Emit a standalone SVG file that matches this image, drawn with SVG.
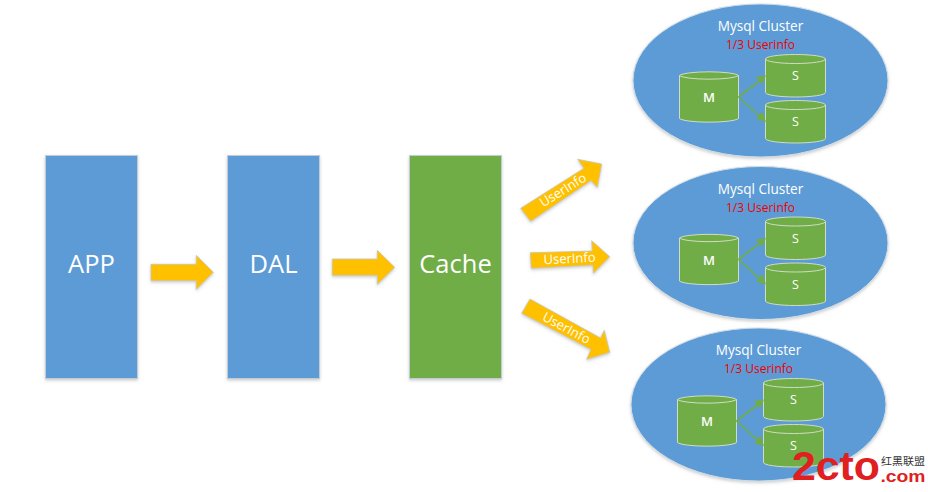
<svg xmlns="http://www.w3.org/2000/svg" width="928" height="492" viewBox="0 0 928 492">
<style>
text{font-family:"Open Sans","Noto Sans","Liberation Sans",sans-serif;text-anchor:middle;fill:#fff}
.box{stroke:#c3ccd4;stroke-width:1;filter:url(#sh)}
.blue{fill:#5b9bd5}.green{fill:#70ad47}
.arrow{fill:#ffc000;stroke:#c9c6b4;stroke-width:.8;filter:url(#sh)}
.cyl{fill:#70ad47;stroke:#d0dcc6;stroke-width:1}
.big{font-size:25.5px}.title{font-size:13.6px}.red{font-size:12px;fill:#f00000}.c{font-size:12.5px}.ai{font-size:13px}
.lnk{stroke:#70ad47;stroke-width:1.6;fill:none}
.head{fill:#70ad47}
</style>
<defs>
<filter id="sh" x="-10%" y="-10%" width="120%" height="120%"><feDropShadow dx="0" dy="1.5" stdDeviation="1.5" flood-color="#999" flood-opacity=".5"/></filter>
<g id="db"><path class="cyl" d="M0 4.500A30 4.500 0 0 1 60 4.500V38A30 4.500 0 0 1 0 38Z"/><path class="cyl" style="fill:none" d="M0 4.500A30 4.500 0 0 0 60 4.500"/></g>
<g id="cl">
<ellipse cx="128" cy="76.500" rx="127.500" ry="76.500" class="blue" style="stroke:#d0dde8;stroke-width:1;filter:url(#sh)"/>
<text x="128" y="27" class="title">Mysql Cluster</text>
<text x="128" y="45" class="red">1/3 Userinfo</text>
<use href="#db" transform="translate(133,50.500)"/>
<use href="#db" transform="translate(133,96.500)"/>
<path class="cyl" d="M47 71.500A30 4.500 0 0 1 106 71.500V114.500A30 4.500 0 0 1 47 114.500Z"/>
<path class="cyl" d="M47 71.500A30 4.500 0 0 0 106 71.500" style="fill:none"/>
<text x="76.500" y="98" class="c" style="font-weight:600;font-size:13px">M</text>
<text x="163" y="76" class="c">S</text>
<text x="163" y="122" class="c">S</text>
<path class="lnk" d="M106 93L128 76"/><path class="lnk" d="M106 93L128 113"/>
<path class="head" d="M133.500 71.500L129.500 80.500L123.500 73Z"/>
<path class="head" d="M133.500 118L123.500 115L130 107.500Z"/>
</g>
</defs>
<rect width="928" height="492" fill="#fff"/>
<g id="app"><rect class="box blue" x="45.500" y="155.500" width="92" height="223"/><text x="91.500" y="273" class="big">APP</text></g>
<g id="dal"><rect class="box blue" x="227.500" y="155.500" width="92" height="223"/><text x="273.500" y="273" class="big">DAL</text></g>
<g id="cache"><rect class="box green" x="409.500" y="155.500" width="92" height="223"/><text x="455.500" y="273" class="big">Cache</text></g>
<g id="connectors">
<path class="arrow" d="M151 264.300H196.300V255.300L213.300 272.300L196.300 289.300V280.700H151Z"/>
<path class="arrow" d="M332.300 259H377.300V250.300L394.700 267.300L377.300 284.300V275.300H332.300Z"/>
<g id="a1"><path class="arrow" d="M520.700 208.300L584 168.300L577.700 159.300L601.700 164L597.300 187.300L591 180.500L530.700 221.300Z"/><text class="ai" transform="translate(563,190) rotate(-32)" y="4.500">UserInfo</text></g>
<g id="a2"><path class="arrow" d="M530.300 252.700L592.300 251L591.700 240.700L609.700 256.700L593.300 273.300L593 265L531.300 268.300Z"/><text class="ai" transform="translate(569.500,258.500) rotate(-3)" y="4.500">UserInfo</text></g>
<g id="a3"><path class="arrow" d="M530 299L600.500 338L604.300 330.300L609.700 352.300L586.700 359.300L591 349.500L521.700 313.300Z"/><text class="ai" transform="translate(566.500,328) rotate(28)" y="4.500">UserInfo</text></g>
</g>
<g id="cluster1"><use href="#cl" transform="translate(632.500,4)"/></g>
<g id="cluster2"><use href="#cl" transform="translate(632.500,166.500)"/></g>
<g id="cluster3"><use href="#cl" transform="translate(630.500,328)"/></g>
<g id="watermark">
<text x="836" y="480" style="font-family:'Liberation Sans',sans-serif;font-weight:700;font-size:40px;fill:#e02020" textLength="88" lengthAdjust="spacingAndGlyphs">2cto</text>
<text x="903" y="465" style="font-family:'Noto Sans CJK SC',sans-serif;font-size:10.500px;fill:#333" textLength="44" lengthAdjust="spacingAndGlyphs">红黑联盟</text>
<text x="903" y="482" style="font-family:'Liberation Sans',sans-serif;font-weight:700;font-size:16px;fill:#e02020" textLength="45" lengthAdjust="spacingAndGlyphs">.com</text>
</g>
</svg>
